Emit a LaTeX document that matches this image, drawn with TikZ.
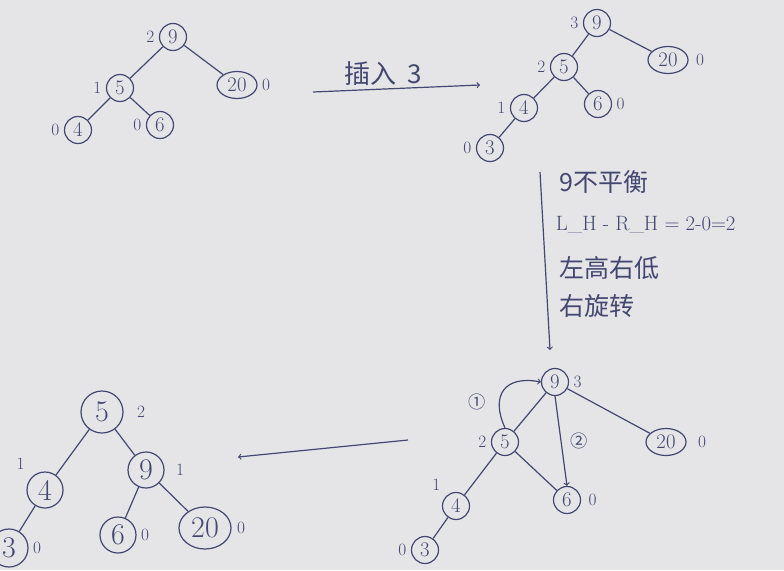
\documentclass[tikz,border=0pt]{standalone}
\usepackage{fontspec}
\newfontfamily\cjk{Noto Sans CJK SC}
\usetikzlibrary{shapes.geometric}
\definecolor{ink}{RGB}{68,72,112}
\definecolor{paper}{RGB}{229,229,231}

\begin{document}
\begin{tikzpicture}[x=1pt, y=-1pt, color=ink, line width=1.2pt,
        main/.style = {draw, circle, minimum size = 27pt, inner sep = 0pt, font = \huge},
        wide/.style = {draw, ellipse, minimum width = 40pt, minimum height = 27pt, inner sep = 0pt, font = \huge},
        big/.style = {draw, circle, minimum size = 36pt, inner sep = 0pt, font = \fontsize{30}{34}\selectfont},
        every label/.style = {font = \LARGE, inner sep = 1pt},
        label distance = 3pt,
        note/.style = {font = \cjk\fontsize{25}{30}\selectfont, anchor = west}]
        \fill [paper] (0,0) rectangle (784,570);
        \useasboundingbox (0,0) rectangle (784,570);

        % before insert
        \node [main, label=left:2] (t9) at (173,37) {9};
        \node [wide, label=right:0] (t20) at (237,85) {20};
        \node [main, label=left:1] (t5) at (120,88) {5};
        \node [main, label=left:0] (t4) at (78,130) {4};
        \node [main, label=left:0] (t6) at (160,125) {6};
        \foreach \a/\b in {t9/t5, t9/t20, t5/t4, t5/t6}
                 {
                   \draw (\a) -- (\b);
                 }

        \coordinate (ins0) at (313,92);
        \coordinate (ins1) at (480,85);
        \draw [->] (ins0) -- node[pos=.42, above, font=\cjk\fontsize{26}{30}\selectfont] (ins) {插入\ \ 3} (ins1);

        % after insert
        \node [main, label=left:3] (u9) at (597,23) {9};
        \node [wide, label={[label distance=6pt]right:0}] (u20) at (668,60) {20};
        \node [main, label=left:2] (u5) at (564,67) {5};
        \node [main, label=left:1] (u4) at (524,108) {4};
        \node [main, label=right:0] (u6) at (598,104) {6};
        \node [main, label=left:0] (u3) at (490,148) {3};
        \foreach \a/\b in {u9/u5, u9/u20, u5/u4, u5/u6, u4/u3}
                 {
                   \draw (\a) -- (\b);
                 }

        \coordinate (v0) at (540,172);
        \coordinate (v1) at (550,350);
        \draw [->] (v0) -- (v1);
        \node [note] (why1) at (556,182) {9不平衡};
        \node [note, font=\huge] (why2) at (552,225) {L\_H - R\_H = 2-0=2};
        \node [note] (why3) at (556,268) {左高右低};
        \node [note] (why4) at (556,306) {右旋转};

        % rotating
        \node [main, label=right:3] (w9) at (555,382) {9};
        \node [wide, label={[label distance=10pt]right:0}] (w20) at (666,442) {20};
        \node [main, label={[label distance=6pt]right:0}] (w6) at (567,500) {6};
        \node [main, label=left:2] (w5) at (505,442) {5};
        \node [main, label={[label distance=6pt]above left:1}] (w4) at (456,506) {4};
        \node [main, label=left:0] (w3) at (425,550) {3};
        \foreach \a/\b in {w9/w5, w9/w20, w5/w4, w5/w6, w4/w3}
                 {
                   \draw (\a) -- (\b);
                 }
        \draw [->] (w5.north) .. controls (490,395) and (505,375) .. node[pos=.3, left=10pt, font=\cjk\LARGE] (s1) {①} (w9.west);
        \draw [->] (w9.south) -- node[pos=.5, right=6pt, font=\cjk\LARGE] (s2) {②} (w6.north);

        \coordinate (back0) at (408,440);
        \coordinate (back1) at (238,457);
        \draw [->] (back0) -- (back1);

        % after rotation
        \node [big, minimum size=42pt, label={[label distance=12pt]right:2}] (r5) at (102,412) {5};
        \node [big, label={[label distance=10pt]right:1}] (r9) at (146,470) {9};
        \node [big, label={[label distance=8pt]above left:1}] (r4) at (45,490) {4};
        \node [big, label=right:0] (r6) at (118,535) {6};
        \node [wide, minimum width=52pt, minimum height=42pt, font=\fontsize{30}{34}\selectfont, label={[label distance=4pt]right:0}] (r20) at (205,528) {20};
        \node [big, minimum size=38pt, label=right:0] (r3) at (9,548) {3};
        \foreach \a/\b in {r5/r4, r5/r9, r9/r6, r9/r20, r4/r3}
                 {
                   \draw (\a) -- (\b);
                 }
\end{tikzpicture}
\end{document}
